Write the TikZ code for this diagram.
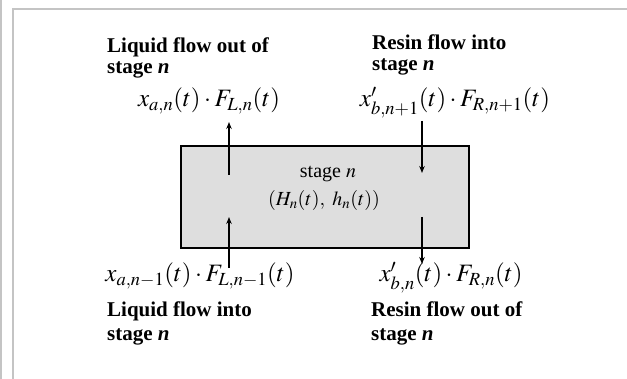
\documentclass[tikz,border=0pt]{standalone}
\usepackage{mathptmx}
\usepackage[no-math]{fontspec}
\setmainfont{Liberation Serif}
\usetikzlibrary{arrows.meta}
\definecolor{framegray}{HTML}{C4C4C4}
\definecolor{boxgray}{HTML}{DEDEDE}
\tikzset{
  frameline/.style={draw=framegray, line width=2pt},
  stagebox/.style={draw=black, fill=boxgray, line width=1.8pt},
  lbl/.style={anchor=base west, inner sep=0pt, font=\fontsize{21}{23}\selectfont\bfseries},
  flow/.style={anchor=base, inner sep=0pt, font=\fontsize{25}{27}\selectfont},
  intext/.style={anchor=base, inner sep=0pt, font=\fontsize{20}{22}\selectfont},
  flowarrow/.style={draw=black, line width=1.3pt, -{Stealth[length=7pt,width=5.5pt]}}
}
\begin{document}
\begin{tikzpicture}[x=1pt, y=-1pt]
\useasboundingbox (0,0) rectangle (627,379);
% frame
\draw[frameline] (1,0) -- (1,379);
\draw[frameline] (13,379) -- (13,9) -- (627,9);
% stage box
\draw[stagebox] (181,146) rectangle (469,248);
\node[intext] (st1) at (328,178) {stage $n$};
\node[intext] (st2) at (324,206) {$(H_n(t),\ h_n(t))$};
% labels
\node[lbl] (lo1) at (107,53) {Liquid flow out of};
\node[lbl] (lo2) at (107,74) {stage \textit{n}};
\node[lbl] (ri1) at (372,50) {Resin flow into};
\node[lbl] (ri2) at (372,71) {stage \textit{n}};
\node[lbl] (li1) at (107,317) {Liquid flow into};
\node[lbl] (li2) at (107,341) {stage \textit{n}};
\node[lbl] (ro1) at (371,317) {Resin flow out of};
\node[lbl] (ro2) at (371,341) {stage \textit{n}};
% flow expressions
\node[flow] (ftl) at (209,107) {$x_{a,n}(t)\cdot F_{L,n}(t)$};
\node[flow] (ftr) at (455,107) {$x'_{b,n+1}(t)\cdot F_{R,n+1}(t)$};
\node[flow] (fbl) at (200,282) {$x_{a,n-1}(t)\cdot F_{L,n-1}(t)$};
\node[flow] (fbr) at (451,282) {$x'_{b,n}(t)\cdot F_{R,n}(t)$};
% arrow endpoints
\coordinate (tls) at (229,175);
\coordinate (tle) at (229,122);
\coordinate (bls) at (229,268);
\coordinate (ble) at (229,217);
\coordinate (trs) at (422,121);
\coordinate (tre) at (422,173);
\coordinate (brs) at (422,217);
\coordinate (bre) at (422,264);
\draw[flowarrow] (tls) -- (tle);
\draw[flowarrow] (bls) -- (ble);
\draw[flowarrow] (trs) -- (tre);
\draw[flowarrow] (brs) -- (bre);
\end{tikzpicture}
\end{document}
